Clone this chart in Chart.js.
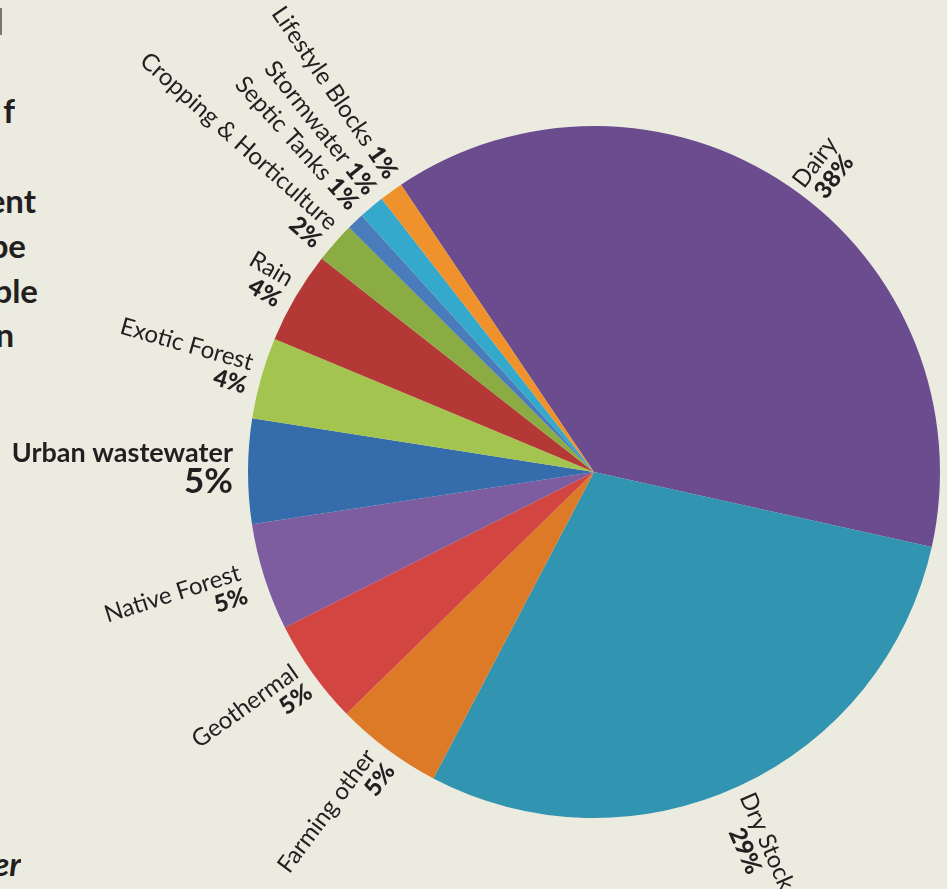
<!DOCTYPE html>
<html>
<head>
<meta charset="utf-8">
<script src="https://cdn.jsdelivr.net/npm/chart.js@4/dist/chart.umd.min.js"></script>
<style>
  html, body { margin: 0; padding: 0; background: #ebebe0; overflow: hidden; }
  #wrap { position: relative; width: 947px; height: 889px; }
  #pie { position: absolute; left: 0; top: 0; }
  .frag { position: absolute; left: 0; height: 44px; overflow: hidden; }
  .frag span { position: absolute; right: 0; top: 0; white-space: nowrap;
               font: bold 33px Lato, sans-serif; color: #231f20; line-height: 1; }
  .frag span.it { font-style: italic; }
  .bar { position: absolute; left: 0; top: 8px; width: 2px; height: 27px; background: #77776f; }
</style>
</head>
<body>
<div id="wrap">
  <div class="bar"></div>
  <div class="frag" style="top:94px; width:15px;"><span>f</span></div>
  <div class="frag" style="top:184px; width:36px;"><span>ment</span></div>
  <div class="frag" style="top:229px; width:26px;"><span>pe</span></div>
  <div class="frag" style="top:274px; width:38px;"><span>ple</span></div>
  <div class="frag" style="top:318px; width:14px;"><span>n</span></div>
  <div class="frag" style="top:847px; width:21px;"><span class="it">er</span></div>
  <canvas id="pie" width="947" height="889"></canvas>
</div>
<script>
const categories = ['Dairy', 'Dry Stock', 'Farming other', 'Geothermal', 'Native Forest',
  'Urban wastewater', 'Exotic Forest', 'Rain', 'Cropping & Horticulture',
  'Septic Tanks', 'Stormwater', 'Lifestyle Blocks'];
const shares = [37.9, 29.2, 5.0, 4.9, 5.0, 4.9, 3.8, 4.3, 1.9, 0.8, 1.2, 1.1];
const pctLabels = ['38%', '29%', '5%', '5%', '5%', '5%', '4%', '4%', '2%', '1%', '1%', '1%'];
const colors = ['#6a4c8f', '#3194b1', '#dd7a27', '#d34541', '#7d5c9f', '#356cac',
  '#a4c450', '#b43936', '#8aac42', '#4a7bba', '#34a9cc', '#f0922c'];

// labels that sit on one line with their percentage
const inline = ['Septic Tanks', 'Stormwater', 'Lifestyle Blocks'];
const gaps = { 'Dairy': 6, 'Dry Stock': 10, 'Native Forest': 22, 'Urban wastewater': 15 };
// small turns (degrees) where the original moved a label off the slice middle
const nudges = { 'Dairy': 3, 'Dry Stock': 1.5, 'Septic Tanks': 1.5, 'Stormwater': 1.5, 'Lifestyle Blocks': 1.5 };

const nameFont = '24px Lato';
const pctFont = '900 24px Lato';
const lineH = 24;

const sliceLabels = {
  id: 'sliceLabels',
  afterDatasetsDraw(chart) {
    const ctx = chart.ctx;
    const meta = chart.getDatasetMeta(0);
    ctx.save();
    ctx.fillStyle = '#231f20';
    meta.data.forEach((arc, i) => {
      const p = arc.getProps(['x', 'y', 'startAngle', 'endAngle', 'outerRadius'], true);
      const name = categories[i];
      const pct = pctLabels[i];
      const mid = (p.startAngle + p.endAngle) / 2 + (nudges[name] || 0) * Math.PI / 180;
      const r = p.outerRadius + (gaps[name] ?? 12);

      ctx.save();
      ctx.translate(p.x, p.y);

      if (name === 'Urban wastewater') {
        ctx.textAlign = 'right';
        ctx.textBaseline = 'alphabetic';
        ctx.font = 'bold 27px Lato';
        ctx.fillText(name, -r, -10);
        ctx.font = 'bold 35px Lato';
        ctx.fillText(pct, -r, 21);
      } else if (Math.cos(mid) > 0) {
        // right side: text reads outward, lines centred on each other
        ctx.rotate(mid);
        ctx.textAlign = 'center';
        ctx.textBaseline = 'middle';
        ctx.font = nameFont;
        const w1 = ctx.measureText(name).width;
        ctx.font = pctFont;
        const w2 = ctx.measureText(pct).width;
        const cx = r + Math.max(w1, w2) / 2;
        ctx.font = nameFont;
        ctx.fillText(name, cx, -lineH / 2);
        ctx.font = pctFont;
        ctx.fillText(pct, cx, lineH / 2);
      } else {
        // left side: text reads toward the centre, right aligned at the rim
        ctx.rotate(mid + Math.PI);
        ctx.textAlign = 'right';
        ctx.textBaseline = 'middle';
        if (inline.includes(name)) {
          ctx.font = pctFont;
          const w = ctx.measureText(pct).width;
          ctx.fillText(pct, -r, 0);
          ctx.font = nameFont;
          ctx.fillText(name, -r - w - 6, 0);
        } else {
          ctx.font = nameFont;
          ctx.fillText(name, -r, -lineH / 2);
          ctx.font = pctFont;
          ctx.fillText(pct, -r, lineH / 2);
        }
      }
      ctx.restore();
    });
    ctx.restore();
  }
};

new Chart(document.getElementById('pie'), {
  type: 'pie',
  data: {
    labels: categories,
    datasets: [{
      data: shares,
      backgroundColor: colors,
      borderWidth: 0,
    }]
  },
  options: {
    responsive: false,
    animation: false,
    events: [],
    rotation: -33.9,
    layout: { padding: { left: 248, right: 7, top: 126, bottom: 71 } },
    plugins: {
      legend: { display: false },
      tooltip: { enabled: false },
    },
  },
  plugins: [sliceLabels]
});
</script>
</body>
</html>
